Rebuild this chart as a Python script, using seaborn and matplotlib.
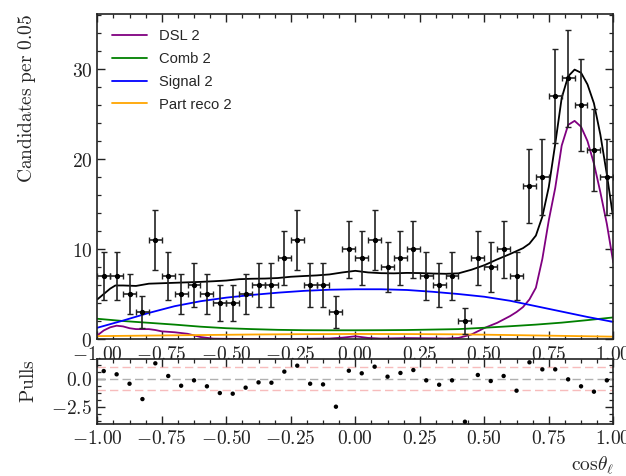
import numpy as np
import pandas as pd
import matplotlib
matplotlib.use("Agg")
import matplotlib.pyplot as plt
from matplotlib.ticker import AutoMinorLocator, MultipleLocator, FuncFormatter
import seaborn as sns

# ---------------- data ----------------
bin_centers = np.linspace(-0.975, 0.975, 40)
counts = [7, 7, 5, 3, 11, 7, 5, 6, 5, 4, 4, 5, 6, 6, 9, 11, 6, 6, 3, 10,
          9, 11, 8, 9, 10, 7, 6, 7, 2, 9, 8, 10, 7, 17, 18, 27, 29, 26, 21, 18]
pulls = [0.68, 0.39, -0.45, -1.82, 1.37, 0.24, -0.63, -0.15, -0.68, -1.28,
         -1.34, -0.80, -0.33, -0.36, 0.63, 1.16, -0.45, -0.51, -2.50, 0.71,
         0.48, 1.07, 0.18, 0.51, 0.77, -0.15, -0.54, -0.15, -3.84, 0.33,
         -0.21, 0.24, -1.07, 1.46, 0.83, 0.83, -0.06, -0.68, -1.16, -0.15]

total_x = [-1.00, -0.95, -0.93, -0.90, -0.85, -0.80, -0.75, -0.70, -0.65, -0.60,
           -0.55, -0.50, -0.45, -0.40, -0.35, -0.30, -0.25, -0.20, -0.15, -0.10,
           -0.05, 0.00, 0.05, 0.10, 0.15, 0.20, 0.25, 0.30, 0.35, 0.40,
           0.45, 0.50, 0.55, 0.60, 0.65, 0.675, 0.70, 0.725, 0.75, 0.775,
           0.80, 0.825, 0.85, 0.875, 0.90, 0.925, 0.95, 0.975, 1.00]
total_y = [4.4, 5.6, 5.95, 5.95, 5.9, 6.15, 6.2, 6.25, 6.3, 6.35,
           6.42, 6.5, 6.65, 6.7, 6.72, 6.78, 6.92, 7.0, 7.07, 7.18,
           7.4, 7.58, 7.4, 7.32, 7.3, 7.35, 7.33, 7.28, 7.25, 7.3,
           7.7, 8.2, 8.85, 9.45, 10.1, 10.6, 11.5, 13.6, 16.9, 21.7,
           26.8, 29.2, 29.95, 29.6, 28.3, 26.2, 22.7, 18.3, 13.4]

dsl_x = [-1.00, -0.975, -0.95, -0.925, -0.90, -0.875, -0.85, -0.80, -0.775, -0.75,
         -0.70, -0.65, -0.60, -0.55, -0.50, -0.40, -0.30, -0.20, -0.10, -0.05,
         0.00, 0.05, 0.10, 0.20, 0.30, 0.35, 0.40, 0.45, 0.50, 0.55,
         0.60, 0.625, 0.65, 0.675, 0.70, 0.725, 0.75, 0.775, 0.80, 0.825,
         0.85, 0.875, 0.90, 0.925, 0.95, 0.975, 1.00]
dsl_y = [0.4, 0.95, 1.3, 1.48, 1.4, 1.2, 1.1, 1.1, 1.0, 0.85,
         0.75, 0.58, 0.22, 0.04, 0.02, 0.0, 0.0, 0.02, 0.05, 0.15,
         0.3, 0.12, 0.05, 0.1, 0.08, 0.05, 0.12, 0.5, 1.22, 1.8,
         2.55, 3.0, 3.55, 4.4, 5.7, 8.9, 13.2, 16.8, 21.5, 23.8,
         24.25, 23.6, 22.0, 19.5, 16.3, 12.8, 8.5]

comp_x = [-1.0, -0.9, -0.8, -0.7, -0.6, -0.5, -0.4, -0.3, -0.2, -0.1, 0.0,
          0.1, 0.2, 0.3, 0.4, 0.5, 0.6, 0.7, 0.8, 0.9, 1.0]
comb_y = [2.25, 2.0, 1.8, 1.6, 1.37, 1.2, 1.1, 1.02, 0.98, 0.97, 0.97,
          0.98, 1.0, 1.05, 1.1, 1.25, 1.42, 1.6, 1.82, 2.1, 2.4]
signal_y = [1.25, 2.05, 2.9, 3.65, 4.2, 4.6, 4.9, 5.15, 5.35, 5.48, 5.53,
            5.53, 5.45, 5.25, 5.0, 4.7, 4.25, 3.65, 3.05, 2.45, 1.9]

preco_x = [-1.0, -0.8, -0.6, -0.4, -0.2, 0.0, 0.2, 0.4, 0.6, 0.8, 1.0]
preco_y = [0.32, 0.38, 0.44, 0.5, 0.54, 0.56, 0.55, 0.52, 0.44, 0.35, 0.26]

# ---------------- style ----------------
sns.set_style("ticks")
plt.rcParams["mathtext.fontset"] = "cm"
plt.rcParams["font.family"] = ["DejaVu Sans"]

fig = plt.figure(figsize=(6.26, 4.76), dpi=100)
ax = fig.add_axes([0.1554, 0.2878, 0.8243, 0.6822])
axp = fig.add_axes([0.1554, 0.1086, 0.8243, 0.1366])

lw = 1.3
sns.lineplot(x=dsl_x, y=dsl_y, ax=ax, color="#800080", lw=lw, label="DSL 2", sort=False, estimator=None)
sns.lineplot(x=comp_x, y=comb_y, ax=ax, color="#008000", lw=lw, label="Comb 2", sort=False, estimator=None)
sns.lineplot(x=comp_x, y=signal_y, ax=ax, color="#0000ff", lw=lw, label="Signal 2", sort=False, estimator=None)
sns.lineplot(x=preco_x, y=preco_y, ax=ax, color="#ffa500", lw=lw, label="Part reco 2", sort=False, estimator=None)
sns.lineplot(x=total_x, y=total_y, ax=ax, color="black", lw=lw, sort=False, estimator=None)

counts_arr = np.array(counts, dtype=float)
ax.errorbar(bin_centers, counts_arr, yerr=np.sqrt(counts_arr), xerr=0.025,
            fmt="o", color="black", ecolor="#222222", ms=2.8, elinewidth=1.2,
            capsize=2, capthick=1.0, zorder=5)

handles, labels = ax.get_legend_handles_labels()
keep = ["DSL 2", "Comb 2", "Signal 2", "Part reco 2"]
hl = {l: h for h, l in zip(handles, labels)}
ax.legend([hl[k] for k in keep], keep, loc="upper left", frameon=False,
          prop={"family": "Liberation Sans", "size": 10.6},
          handlelength=2.4, handletextpad=0.8, labelspacing=0.6,
          borderaxespad=0.6)

ax.set_xlim(-1, 1)
ax.set_ylim(0, 36.1)

# pulls
axp.axhline(0, color="#b0b0b0", ls="--", lw=1.0, dashes=(6, 3))
axp.axhline(1, color="#f4a0a0", ls="--", lw=1.0, dashes=(6, 3), alpha=0.7)
axp.axhline(-1, color="#f4a0a0", ls="--", lw=1.0, dashes=(6, 3), alpha=0.7)
sns.scatterplot(x=bin_centers, y=pulls, ax=axp, color="black", s=10,
                edgecolor="none", zorder=5)
axp.set_xlim(-1, 1)
axp.set_ylim(-4.07, 1.73)

fmt2 = FuncFormatter(lambda v, p: f"${v:.2f}$")
for a in (ax, axp):
    a.xaxis.set_major_locator(MultipleLocator(0.25))
    a.xaxis.set_major_formatter(fmt2)
    a.xaxis.set_minor_locator(AutoMinorLocator(4))
    a.tick_params(which="both", direction="in", top=True, right=True,
                  labelsize=14, colors="#222222")
    a.tick_params(which="major", length=6, width=1.0)
    a.tick_params(which="minor", length=3.2, width=0.9)
    for s in a.spines.values():
        s.set_linewidth(1.2)
        s.set_color("#222222")

ax.yaxis.set_major_locator(MultipleLocator(10))
ax.yaxis.set_minor_locator(AutoMinorLocator(5))
ax.yaxis.set_major_formatter(FuncFormatter(lambda v, p: f"${v:.0f}$"))
axp.yaxis.set_major_locator(MultipleLocator(2.5))
axp.yaxis.set_minor_locator(AutoMinorLocator(4))
axp.yaxis.set_major_formatter(FuncFormatter(lambda v, p: f"${v:.1f}$"))
ax.tick_params(axis="x", pad=4)

ax.set_ylabel(r"$\mathrm{Candidates\ per\ 0.05}$", fontsize=14, loc="top")
ax.yaxis.set_label_coords(-0.115, 1.0)
axp.set_ylabel(r"$\mathrm{Pulls}$", fontsize=14, loc="top")
axp.yaxis.set_label_coords(-0.115, 1.0)
axp.set_xlabel(r"$\mathrm{cos}\theta_\ell$", fontsize=14, loc="right")
ax.set_xlabel("")

fig.savefig("out.png", dpi=100)
